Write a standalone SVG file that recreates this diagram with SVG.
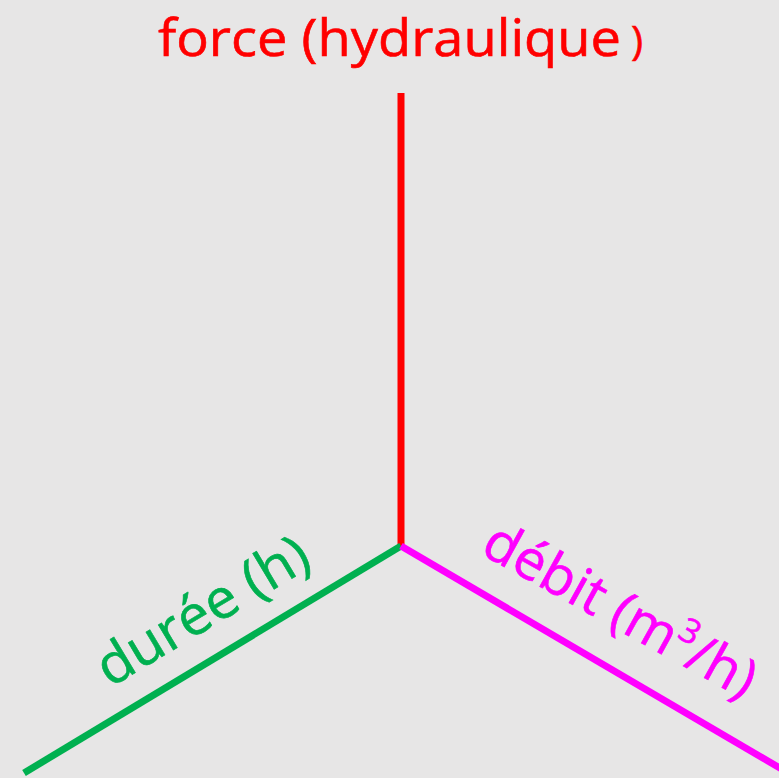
<svg xmlns="http://www.w3.org/2000/svg" width="779" height="778" viewBox="0 0 779 778">
<style>
.lbl{font-family:"Open Sans","Noto Sans","Liberation Sans",sans-serif;font-size:55px;stroke-width:0.6}
.axis{stroke-width:7;fill:none;stroke-linecap:butt}
</style>
<rect width="779" height="778" fill="#e7e6e6"/>
<g id="connectors">
<line class="axis" x1="401" y1="93" x2="401" y2="547" stroke="#ff0000"/>
<line class="axis" x1="401" y1="546" x2="24" y2="773" stroke="#00b050"/>
<line class="axis" x1="401" y1="546" x2="785" y2="771" stroke="#ff00ff"/>
</g>
<g id="force">
<text class="lbl" x="158" y="56" fill="#ff0000" stroke="#ff0000" style="font-size:52px" textLength="463" lengthAdjust="spacingAndGlyphs">force (hydraulique</text>
<text class="lbl" x="631" y="55" fill="#ff0000" stroke="#ff0000" style="font-size:41px">)</text>
</g>
<g id="duree">
<text class="lbl" transform="translate(110,688) rotate(-31)" fill="#00b050" stroke="#00b050" textLength="238" lengthAdjust="spacingAndGlyphs">durée (h)</text>
</g>
<g id="debit">
<text class="lbl" transform="translate(479,553) rotate(29)" fill="#ff00ff" stroke="#ff00ff">débit (m<tspan dy="-22" style="font-size:34px">3</tspan><tspan dy="22">/h)</tspan></text>
</g>
</svg>
